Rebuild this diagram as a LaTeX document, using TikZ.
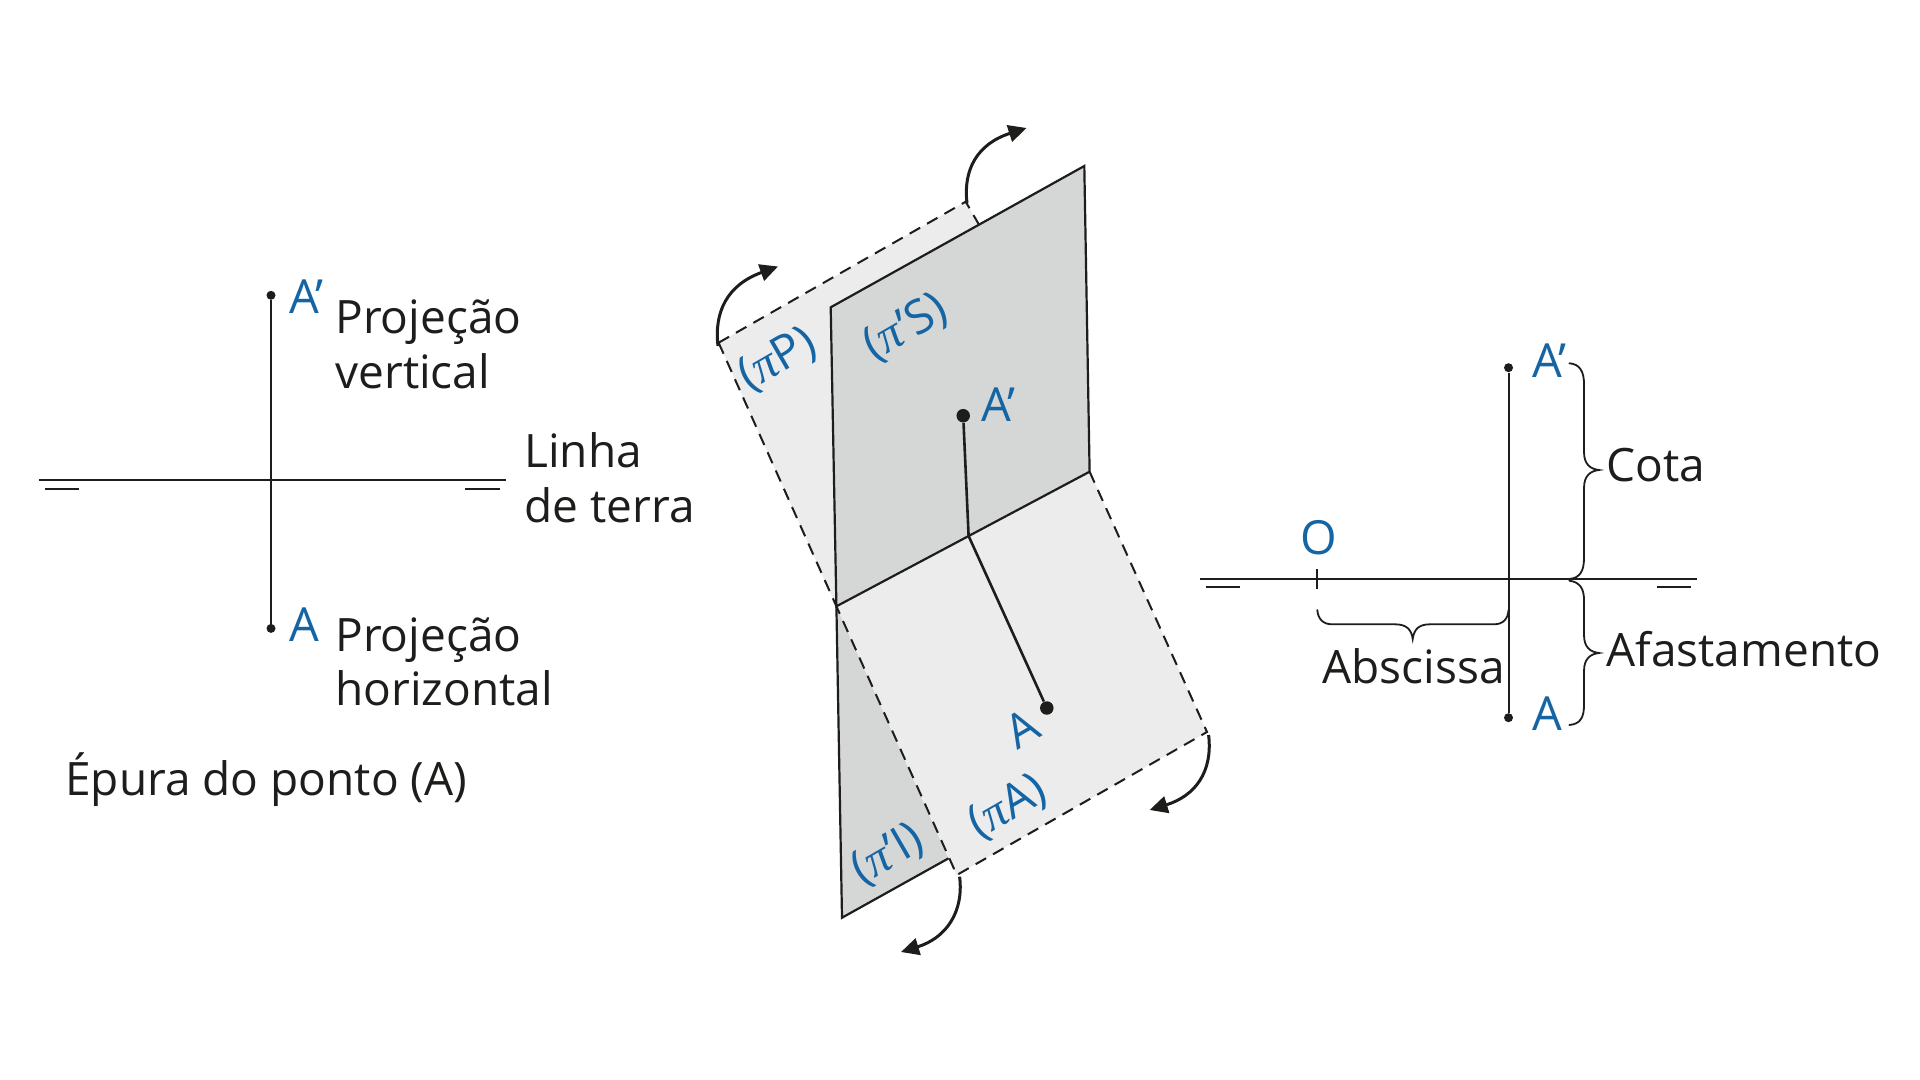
\documentclass[tikz,border=0pt]{standalone}
\usepackage{fontspec}
\setmainfont{Open Sans}
\newfontfamily\pifont{Liberation Serif}
\newcommand{\mypi}{{\pifont\itshape\fontsize{24}{27}\selectfont π}}
\usetikzlibrary{arrows.meta}
\definecolor{ink}{HTML}{1D1D1B}
\definecolor{bluetxt}{HTML}{1565A5}
\definecolor{planelight}{HTML}{ECECEC}
\definecolor{planedark}{HTML}{D5D7D6}
\tikzset{
  txt/.style={inner sep=0pt,text=ink,font=\fontsize{23}{27}\selectfont,anchor=base west,yshift=-0.5pt},
  lbl/.style={inner sep=0pt,text=bluetxt,font=\fontsize{23.5}{27}\selectfont,anchor=base west,yshift=-0.5pt},
  rlbl/.style={inner sep=0pt,text=bluetxt,font=\fontsize{23.5}{27}\selectfont,anchor=center,rotate=30},
  edge/.style={draw=ink,line width=1.1pt,line join=miter},
  dashedge/.style={draw=ink,line width=1pt,dash pattern=on 6pt off 4pt},
  thin line/.style={draw=ink,line width=1pt},
  brace/.style={draw=ink,line width=0.9pt,line cap=round},
  stem/.style={draw=ink,line width=1.3pt},
  turn/.style={draw=ink,line width=1.5pt,-{Triangle[length=9pt,width=8.5pt]}},
  dot/.style={circle,fill=ink,inner sep=0pt,minimum size=#1},
}
\begin{document}
\begin{tikzpicture}[x=0.5pt,y=-0.5pt]
\useasboundingbox (0,0) rectangle (1920,1080);
\fill[white] (0,0) rectangle (1920,1080);
% ---- plane corners
\coordinate (stl) at (830.7,307.3);
\coordinate (str) at (1084.3,166);
\coordinate (sbr) at (1089.6,471.7);
\coordinate (sbl) at (836.4,606.3);
\coordinate (ptl) at (718.6,342.7);
\coordinate (ptr) at (965.7,201.7);
\coordinate (pj)  at (978.6,224);
\coordinate (abr) at (1207,732);
\coordinate (abl) at (956.8,875);
\coordinate (ibl) at (842,917.7);
\coordinate (ibr) at (948.6,858.3);
\coordinate (mid) at (968.6,536);
% ---- planes
\fill[planelight] (ptl) -- (ptr) -- (pj) -- (stl) -- (sbl) -- cycle;
\fill[planedark] (sbl) -- (ibl) -- (ibr) -- cycle;
\draw[edge] (sbl) -- (ibl) -- (ibr);
\fill[planelight] (sbl) -- (sbr) -- (abr) -- (abl) -- cycle;
\path[fill=planedark] (stl) -- (str) -- (sbr) -- (sbl) -- cycle;
\draw[edge] (sbl) -- (stl) -- (str) -- (sbr) -- cycle;
\draw[dashedge] (ptl) -- (ptr) -- (pj);
\draw[dashedge] (ptl) -- (sbl);
\draw[dashedge] (sbr) -- (abr) -- (abl) -- (sbl);
% ---- point in space
\node[dot=6.75pt] (pA1) at (963.2,415.7) {};
\node[dot=6.75pt] (pA0) at (1046.8,708) {};
\draw[stem] (pA1) -- (mid) -- (pA0);
% ---- turning arrows
\coordinate (a1s) at (718,346); \coordinate (a1e) at (778,266.5);
\coordinate (a2s) at (967,203); \coordinate (a2e) at (1026.5,128);
\coordinate (a3s) at (1208.6,735); \coordinate (a3e) at (1149.6,810);
\coordinate (a4s) at (959.6,876.7); \coordinate (a4e) at (901,952);
\draw[turn] (a1s) .. controls (714,312) and (727,285) .. (a1e);
\draw[turn] (a2s) .. controls (963,170) and (977,144) .. (a2e);
\draw[turn] (a3s) .. controls (1213,772) and (1195,796) .. (a3e);
\draw[turn] (a4s) .. controls (964,912) and (946,938) .. (a4e);
% ---- plane labels
\node[rlbl] (lP) at (778,360) {(\mypi P)};
\node[rlbl] (lS) at (906,328) {(\mypi\kern1pt'S)};
\node[rlbl] (lPA) at (1008,808) {(\mypi A)};
\node[rlbl] (lI) at (888,855) {(\mypi\kern1pt'I)};
\node[rlbl] (lA) at (1022,728) {A};
\node[lbl] (lA1) at (981,420) {A’};
% ---- left epure
\coordinate (lL) at (39,480.4); \coordinate (lR) at (506,480.4);
\coordinate (ls1) at (45,488.7); \coordinate (ls2) at (79.4,488.7);
\coordinate (ls3) at (465,488.7); \coordinate (ls4) at (499.5,488.7);
\node[dot=4.5pt] (lT) at (271,295.3) {};
\node[dot=4.5pt] (lB) at (271,628.4) {};
\draw[thin line] (lT) -- (lB);
\draw[thin line] (lL) -- (lR);
\draw[thin line] (ls1) -- (ls2);
\draw[thin line] (ls3) -- (ls4);
\node[lbl] (la1) at (289,312.7) {A’};
\node[lbl] (la0) at (289,640.7) {A};
\node[txt] (t1) at (335,332.7) {Projeção};
\node[txt] (t2) at (335,387) {vertical};
\node[txt] (t3) at (335,650) {Projeção};
\node[txt] (t4) at (335,704.4) {horizontal};
\node[txt] (t5) at (524,466) {Linha};
\node[txt] (t6) at (524,521) {de terra};
\node[txt] (t7) at (65,794.5) {Épura do ponto (A)};
% ---- right epure
\coordinate (rL) at (1200,579); \coordinate (rR) at (1696.7,579);
\coordinate (rs1) at (1206,587); \coordinate (rs2) at (1240.4,587);
\coordinate (rs3) at (1656.6,587); \coordinate (rs4) at (1691,587);
\coordinate (o1) at (1317.3,569); \coordinate (o2) at (1317.3,589.3);
\node[dot=4.5pt] (rT) at (1508.5,367.7) {};
\node[dot=4.5pt] (rB) at (1508.5,717.7) {};
\draw[thin line] (rT) -- (rB);
\draw[thin line] (rL) -- (rR);
\draw[thin line] (rs1) -- (rs2);
\draw[thin line] (rs3) -- (rs4);
\draw[thin line] (o1) -- (o2);
\node[lbl] (lO) at (1300,553) {O};
\node[lbl] (ra1) at (1532,377) {A’};
\node[lbl] (ra0) at (1532,729) {A};
\node[txt] (c) at (1606,480) {Cota};
\node[txt] (af) at (1606,665) {Afastamento};
\node[txt] (ab) at (1322,682) {Abscissa};
% ---- braces
\draw[brace] (1569.3,363.3) .. controls (1580,364) and (1584,372) .. (1584,384)
  -- (1584,452) .. controls (1584,464) and (1590,469) .. (1599,470)
  .. controls (1590,471) and (1584,476) .. (1584,488)
  -- (1584,558) .. controls (1584,571) and (1580,578) .. (1569.3,579);
\draw[brace] (1569.3,580.7) .. controls (1580,582) and (1584,589) .. (1584,600)
  -- (1584,635) .. controls (1584,647) and (1590,652) .. (1599,653)
  .. controls (1590,654) and (1584,659) .. (1584,671)
  -- (1584,705) .. controls (1584,718) and (1580,724) .. (1569.3,725);
\draw[brace] (1317.3,610) .. controls (1318,619) and (1323,624.3) .. (1332,624.3)
  -- (1395,624.3) .. controls (1407,624.3) and (1411.5,630) .. (1412.7,639)
  .. controls (1414,630) and (1418,624.3) .. (1430,624.3)
  -- (1494,624.3) .. controls (1503,624.3) and (1508,619) .. (1508.5,610);
\end{tikzpicture}
\end{document}
